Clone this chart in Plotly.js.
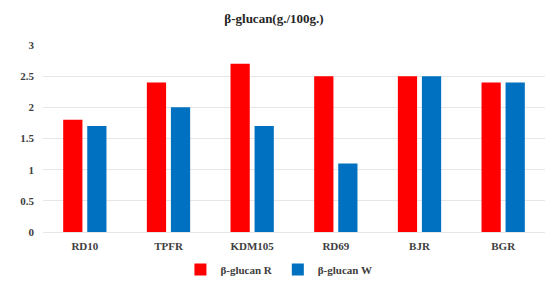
<!DOCTYPE html>
<html><head><meta charset="utf-8">
<script src="https://cdn.plot.ly/plotly-3.0.1.min.js"></script>
<style>body{margin:0;background:#fff}#c{width:548px;height:283px}</style>
</head><body><div id="c"></div>
<script>
const categories = ["RD10", "TPFR", "KDM105", "RD69", "BJR", "BGR"];
const valuesR = [1.8, 2.4, 2.7, 2.5, 2.5, 2.4];
const valuesW = [1.7, 2.0, 1.7, 1.1, 2.5, 2.4];
const yTicks = [0, 0.5, 1, 1.5, 2, 2.5, 3];
const yTickText = ["0", "0.5", "1", "1.5", "2", "2.5", "3"];

const font = {family: "Liberation Serif, Times New Roman, serif", size: 11, color: "#404040"};
const data = [
  {type: "bar", name: "<b>β-glucan R</b>", x: categories, y: valuesR,
   marker: {color: "#FF0000", line: {width: 0}}},
  {type: "bar", name: "<b>β-glucan W</b>", x: categories, y: valuesW,
   marker: {color: "#0070C0", line: {width: 0}}}
];
const layout = {
  width: 548, height: 283,
  margin: {l: 43, r: 3, t: 45, b: 51, autoexpand: false},
  paper_bgcolor: "#fff", plot_bgcolor: "#fff",
  font: font,
  title: {text: "<b>β-glucan(g./100g.)</b>", x: 0.5, xanchor: "center", y: 0.935, yanchor: "middle",
          font: {family: font.family, size: 13, color: "#262626"}},
  barmode: "group", bargap: 0.425, bargroupgap: 0.2,
  xaxis: {tickfont: {family: font.family, size: 11, color: "#404040"}, automargin: false,
          tickprefix: "<b>", ticksuffix: "</b>", showline: false,
          ticks: "outside", ticklen: 4, tickcolor: "rgba(0,0,0,0)"},
  yaxis: {range: [0, 3], tickvals: yTicks, ticktext: yTickText.map(t => "<b>" + t + "</b>"),
          showgrid: true, gridcolor: "#e6e6e6", gridwidth: 1, zeroline: true, zerolinecolor: "#e6e6e6",
          ticks: "", ticklabelstandoff: 8, automargin: false,
          tickfont: {family: font.family, size: 11, color: "#404040"}},
  showlegend: true,
  legend: {orientation: "h", x: 0.47, xanchor: "center", y: -0.2, yanchor: "middle",
           font: {family: font.family, size: 11, color: "#404040"}, itemwidth: 30}
};
Plotly.newPlot("c", data, layout, {displayModeBar: false, staticPlot: true});
</script></body></html>
